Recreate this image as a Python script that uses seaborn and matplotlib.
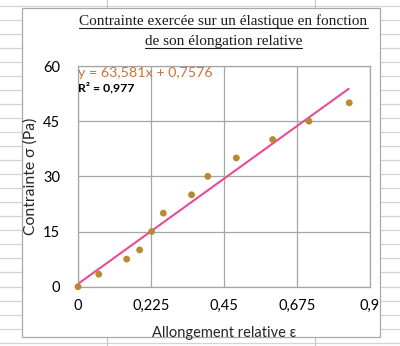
import numpy as np
import pandas as pd
import matplotlib
matplotlib.use("Agg")
import matplotlib.pyplot as plt
from matplotlib.lines import Line2D
from matplotlib.patches import Rectangle
import seaborn as sns

# Measurements: relative elongation and applied stress
elongation = [0, 0.064, 0.15, 0.19, 0.227, 0.263, 0.35, 0.40, 0.488, 0.60, 0.712, 0.836]
stress = [0, 3.4, 7.5, 10, 15, 20, 25, 30, 35, 40, 45, 50]

# Linear trendline coefficients and fit quality
slope = 63.581
intercept = 0.7576
r_squared = 0.977

x_ticks = [0, 0.225, 0.45, 0.675, 0.9]
x_tick_labels = ["0", "0,225", "0,45", "0,675", "0,9"]
y_ticks = [0, 15, 30, 45, 60]
y_tick_labels = ["0", "15", "30", "45", "60"]

title_lines = ["Contrainte exercée sur un élastique en fonction",
               "de son élongation relative"]
x_label = "Allongement relative ε"
y_label = "Contrainte σ (Pa)"
equation_text = "y = 63,581x + 0,7576"
r2_text = "R² = 0,977"

sns.set_style("white")
plt.rcParams["font.family"] = ["Lato", "DejaVu Sans"]

W, H = 400, 346
fig = plt.figure(figsize=(W / 100, H / 100), dpi=100)
fig.patch.set_facecolor("white")


def fx(px):
    return px / W


def fy(py):
    return 1 - py / H


# Worksheet cell grid behind the chart object
for k in range(26):
    yy = 5.5 + 14.05 * k
    fig.add_artist(Line2D([0, 1], [fy(yy), fy(yy)], transform=fig.transFigure,
                          color="#d4d4d4", lw=0.9, zorder=-3))
for xx in (107, 315):
    fig.add_artist(Line2D([fx(xx), fx(xx)], [0, 1], transform=fig.transFigure,
                          color="#c8c8c8", lw=0.9, zorder=-3))

# Chart object frame
fig.add_artist(Rectangle((fx(22), fy(337)), fx(380) - fx(22), fy(8) - fy(337),
                         transform=fig.transFigure, facecolor="white",
                         edgecolor="#a9a9a9", lw=0.9, zorder=-2))

ax = fig.add_axes([fx(78), fy(286.7), fx(370) - fx(78), fy(66) - fy(286.7)])
ax.set_zorder(0)

df = pd.DataFrame({"elongation": elongation, "stress": stress})
sns.scatterplot(data=df, x="elongation", y="stress", ax=ax, color="#b8892e",
                s=24, edgecolor="none", zorder=3, clip_on=False)

trend_x = np.array([0, max(elongation)])
trend_y = slope * trend_x + intercept
ax.plot(trend_x, trend_y, color="#e84b97", lw=1.5, zorder=2, solid_capstyle="butt")

ax.set_xlim(0, 0.9)
ax.set_ylim(0, 60)
ax.set_xticks(x_ticks)
ax.set_xticklabels(x_tick_labels)
ax.set_yticks(y_ticks)
ax.set_yticklabels(y_tick_labels)
ax.tick_params(axis="both", length=0, labelsize=10.5, colors="black")
ax.tick_params(axis="x", pad=9)
ax.tick_params(axis="y", pad=13)
ax.grid(True, color="#a6a6a6", lw=0.9)
for sp in ax.spines.values():
    sp.set_visible(True)
    sp.set_color("#a6a6a6")
    sp.set_linewidth(0.9)

ax.set_xlabel(x_label, fontsize=10.5, labelpad=9)
ax.set_ylabel(y_label, fontsize=11.3, labelpad=4)

ax.text(0.0, 0.995, equation_text, transform=ax.transAxes, ha="left", va="top",
        fontsize=10.3, color="#c8733a", zorder=4)
ax.text(0.0, 0.93, r2_text, transform=ax.transAxes, ha="left", va="top",
        fontsize=8.8, color="black", fontweight="bold", zorder=4)

# Underlined two-line title
title_font = dict(family=["Liberation Serif", "DejaVu Serif"], fontsize=11, color="#1a1a1a")
t1 = fig.text(fx(223.5), fy(25), title_lines[0], ha="center", va="baseline", **title_font)
t2 = fig.text(fx(223.5), fy(45), title_lines[1], ha="center", va="baseline", **title_font)
fig.canvas.draw()
renderer = fig.canvas.get_renderer()
for t, uy in ((t1, 27.5), (t2, 47.5)):
    bb = t.get_window_extent(renderer)
    fig.add_artist(Line2D([bb.x0 / W, bb.x1 / W], [fy(uy), fy(uy)],
                          transform=fig.transFigure, color="#1a1a1a", lw=0.8))

fig.savefig("out.png", dpi=100)
